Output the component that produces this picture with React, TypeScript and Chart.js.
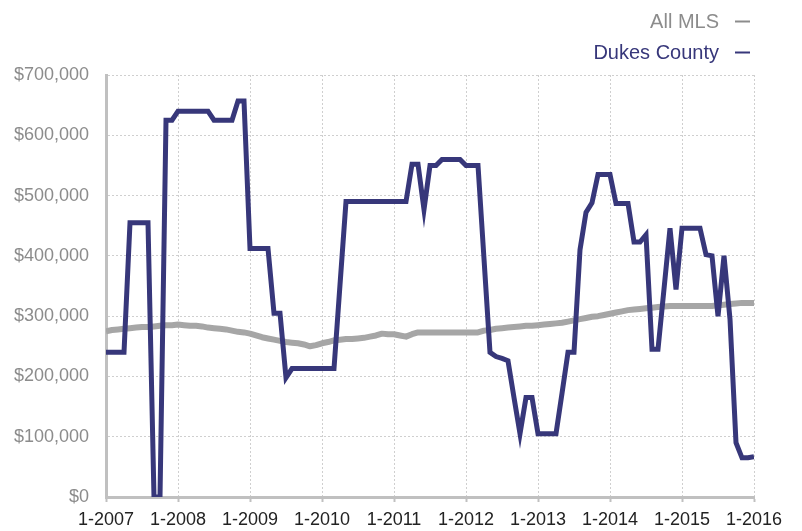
import React, { useEffect, useRef } from "react";
import { Chart, registerables } from "chart.js";

Chart.register(...registerables);

const xTickLabels = ["1-2007", "1-2008", "1-2009", "1-2010", "1-2011", "1-2012", "1-2013", "1-2014", "1-2015", "1-2016"];

// Monthly values, Jan 2007 .. Jan 2016 (109 months)
const dukesCounty = [
  240000, 240000, 240000, 240000, 455000, 455000, 455000, 455000, 0, 0, 625000, 625000,
  640000, 640000, 640000, 640000, 640000, 640000, 625000, 625000, 625000, 625000, 657000, 657000,
  412000, 412000, 412000, 412000, 305000, 305000, 198000, 213000, 213000, 213000, 213000, 213000,
  213000, 213000, 213000, 352000, 490000, 490000, 490000, 490000, 490000, 490000, 490000, 490000,
  490000, 490000, 490000, 552000, 552000, 477000, 550000, 550000, 560000, 560000, 560000, 560000,
  550000, 550000, 550000, 395000, 240000, 233000, 230000, 226000, 165000, 105000, 165000, 165000,
  105000, 105000, 105000, 105000, 172000, 240000, 240000, 410000, 472000, 488000, 535000, 535000,
  535000, 487000, 487000, 487000, 423000, 423000, 435000, 245000, 245000, 345000, 446000, 344000,
  446000, 446000, 446000, 446000, 402000, 400000, 300000, 400000, 295000, 90000, 65000, 65000,
  67000,
];

const allMLS = [
  275000, 277000, 278000, 279000, 280000, 281000, 282000, 282000, 283000, 284000, 285000, 285000,
  286000, 285000, 284000, 284000, 283000, 281000, 280000, 279000, 278000, 276000, 274000, 273000,
  271000, 268000, 265000, 263000, 261000, 259000, 257000, 256000, 255000, 253000, 250000, 252000,
  255000, 257000, 260000, 261000, 262000, 262000, 263000, 264000, 266000, 268000, 271000, 270000,
  270000, 268000, 266000, 270000, 273000, 273000, 273000, 273000, 273000, 273000, 273000, 273000,
  273000, 273000, 273000, 276000, 277000, 279000, 280000, 281000, 282000, 283000, 284000, 284000,
  285000, 286000, 287000, 288000, 289000, 291000, 293000, 295000, 297000, 299000, 300000, 302000,
  304000, 306000, 308000, 310000, 311000, 312000, 313000, 314000, 315000, 316000, 317000, 317000,
  317000, 317000, 317000, 317000, 317000, 317000, 318000, 319000, 320000, 321000, 322000, 322000,
  322000,
];

const seriesNames = ["All MLS", "Dukes County"];
const seriesColors = ["#a6a6a6", "#37377a"];
const legendTextColors = ["#8c8c8c", "#37377a"];

const FONT = "'Liberation Sans', Arial, Helvetica, sans-serif";

const legendPlugin = {
  id: "customLegend",
  afterDraw(chart: any) {
    const ctx = chart.ctx;
    ctx.save();
    ctx.font = `20px ${FONT}`;
    ctx.textAlign = "right";
    ctx.textBaseline = "alphabetic";
    const baselines = [27.5, 58.5];
    const dashY = [21.5, 52.5];
    seriesNames.forEach((name, i) => {
      ctx.fillStyle = legendTextColors[i];
      ctx.fillText(name, 719, baselines[i]);
      ctx.strokeStyle = legendTextColors[i];
      ctx.lineWidth = 2;
      ctx.beginPath();
      ctx.moveTo(735, dashY[i]);
      ctx.lineTo(750, dashY[i]);
      ctx.stroke();
    });
    ctx.restore();
  },
};

export default function App() {
  const canvasRef = useRef<HTMLCanvasElement | null>(null);

  useEffect(() => {
    if (!canvasRef.current) return;
    const chart = new Chart(canvasRef.current, {
      type: "line",
      data: {
        datasets: [
          {
            label: seriesNames[1],
            data: dukesCounty.map((y, i) => ({ x: i, y })),
            borderColor: seriesColors[1],
            borderWidth: 5,
            pointRadius: 0,
            tension: 0,
            borderJoinStyle: "miter",
            fill: false,
          },
          {
            label: seriesNames[0],
            data: allMLS.map((y, i) => ({ x: i, y })),
            borderColor: seriesColors[0],
            borderWidth: 6,
            pointRadius: 0,
            tension: 0,
            borderJoinStyle: "round",
            fill: false,
          },
        ],
      },
      options: {
        animation: false,
        responsive: false,
        maintainAspectRatio: false,
        layout: { padding: { left: 0, right: 48, top: 75, bottom: 0 } },
        plugins: {
          legend: { display: false },
          tooltip: { enabled: false },
        },
        scales: {
          x: {
            type: "linear",
            min: 0,
            max: 108,
            afterFit: (scale: any) => {
              scale.height = 34;
            },
            ticks: {
              stepSize: 12,
              autoSkip: false,
              maxRotation: 0,
              padding: 7,
              color: "#222222",
              font: { family: FONT, size: 18 },
              callback: (v: any) => {
                const idx = Math.round(Number(v) / 12);
                return Number(v) % 12 === 0 ? xTickLabels[idx] : "";
              },
            },
            grid: {
              color: "#cfcfcf",
              lineWidth: 1,
              drawTicks: true,
              tickLength: 5,
              tickColor: "#c0c0c0",
              tickWidth: 2,
              tickBorderDash: [],
            },
            border: { display: true, color: "#c0c0c0", width: 3, dash: [2, 2] },
          },
          y: {
            min: 0,
            max: 700000,
            afterFit: (scale: any) => {
              scale.width = 106;
            },
            ticks: {
              stepSize: 100000,
              padding: 17,
              color: "#8c8c8c",
              font: { family: FONT, size: 18 },
              callback: (v: any) => "$" + Number(v).toLocaleString("en-US"),
            },
            grid: {
              color: "#cfcfcf",
              lineWidth: 1,
              drawTicks: false,
            },
            border: { display: true, color: "#c0c0c0", width: 3, dash: [2, 2] },
          },
        },
      },
      plugins: [legendPlugin],
    } as any);
    return () => chart.destroy();
  }, []);

  return (
    <div style={{ position: "fixed", left: 0, top: 0, width: 802, height: 531, background: "#ffffff" }}>
      <canvas ref={canvasRef} width={802} height={531} style={{ width: 802, height: 531, display: "block" }} />
    </div>
  );
}
